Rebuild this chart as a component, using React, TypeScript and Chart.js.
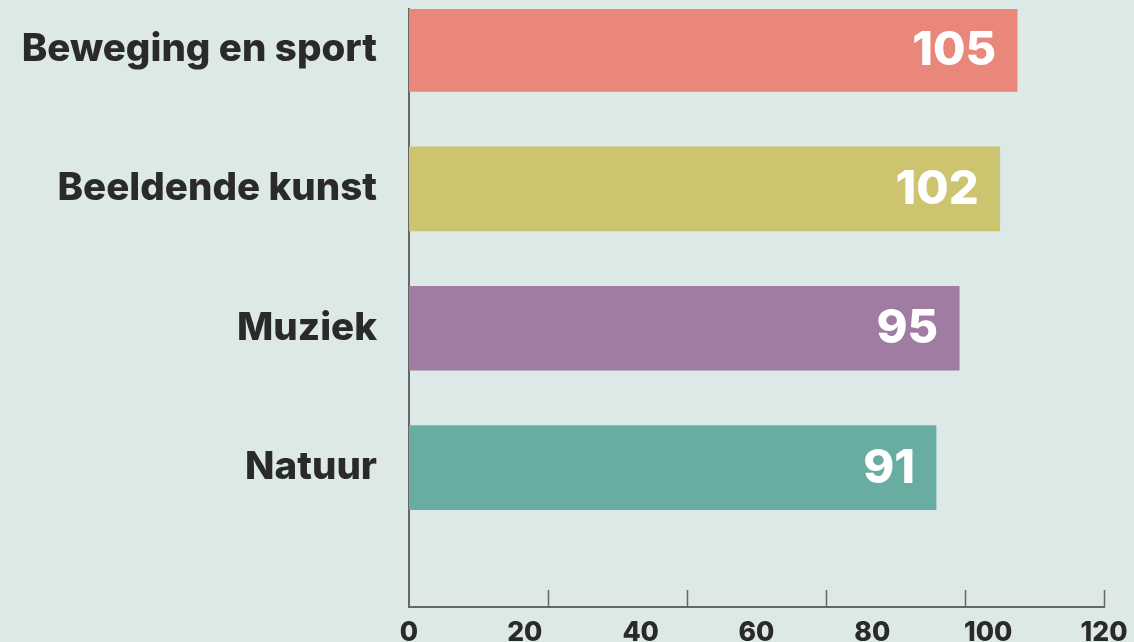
import React, { useEffect, useRef } from "react";
import { Chart, registerables } from "chart.js";

Chart.register(...registerables);

const categories = ["Beweging en sport", "Beeldende kunst", "Muziek", "Natuur"];
const values = [105, 102, 95, 91];
const barColors = ["#e9877b", "#cdc46f", "#a07ba2", "#69ada2"];
const xTickLabels = [0, 20, 40, 60, 80, 100, 120];
const xTickMarks = [24, 48, 72, 96, 120];

const BG = "#dce9e6";
const AXIS = "#666666";
const TEXT = "#2a2a2a";
const FONT = "Inter, 'Noto Sans', sans-serif";

const valueLabels = {
  id: "valueLabels",
  afterDatasetsDraw(chart: any) {
    const { ctx } = chart;
    const meta = chart.getDatasetMeta(0);
    ctx.save();
    ctx.fillStyle = "#ffffff";
    ctx.font = `800 47px ${FONT}`;
    ctx.textAlign = "right";
    ctx.textBaseline = "middle";
    meta.data.forEach((bar: any, i: number) => {
      ctx.fillText(String(values[i]), bar.x - 21, bar.y + 1);
    });
    ctx.restore();
  },
};

const innerTickMarks = {
  id: "innerTickMarks",
  afterDraw(chart: any) {
    const { ctx, chartArea } = chart;
    const xs = chart.scales.x;
    ctx.save();
    ctx.strokeStyle = AXIS;
    ctx.lineWidth = 1.5;
    ctx.beginPath();
    xTickMarks.forEach((v) => {
      const px = Math.round(xs.getPixelForValue(v)) + 0.5;
      ctx.moveTo(px, chartArea.bottom);
      ctx.lineTo(px, chartArea.bottom - 17);
    });
    ctx.stroke();
    ctx.restore();
  },
};

export default function App() {
  const ref = useRef<HTMLCanvasElement | null>(null);

  useEffect(() => {
    if (!ref.current) return;
    const n = categories.length;
    const chart = new Chart(ref.current, {
      type: "bar",
      data: {
        labels: categories,
        datasets: [
          {
            data: values.map((v, i) => ({ x: v, y: n - i })) as any,
            backgroundColor: barColors,
            borderWidth: 0,
            barThickness: 84,
          },
        ],
      },
      options: {
        indexAxis: "y",
        animation: false,
        responsive: false,
        devicePixelRatio: 1,
        layout: { padding: { top: 9, right: 30, left: 0, bottom: 0 } },
        plugins: {
          legend: { display: false },
          tooltip: { enabled: false },
        },
        scales: {
          y: {
            type: "linear",
            min: 0,
            max: 4.29,
            offset: false,
            afterBuildTicks: (scale: any) => {
              scale.ticks = categories.map((_, i) => ({ value: n - i }));
            },
            afterFit: (scale: any) => {
              scale.width = 409;
              scale.paddingTop = 0;
              scale.paddingBottom = 0;
            },
            grid: { display: false, drawTicks: false },
            border: { display: true, color: AXIS, width: 2 },
            ticks: {
              padding: 32,
              color: TEXT,
              font: { family: FONT, size: 38.5, weight: "800" as any },
              callback: (v: any) => categories[n - Number(v)] ?? "",
            },
          },
          x: {
            type: "linear",
            min: 0,
            max: 120,
            offset: false,
            afterBuildTicks: (scale: any) => {
              scale.ticks = xTickLabels.map((v) => ({ value: v }));
            },
            afterFit: (scale: any) => {
              scale.height = 60;
              scale.paddingLeft = 0;
              scale.paddingRight = 0;
            },
            grid: { display: false, drawTicks: false },
            border: { display: true, color: AXIS, width: 2 },
            ticks: {
              padding: 10,
              color: TEXT,
              maxRotation: 0,
              font: { family: FONT, size: 26.5, weight: "800" as any },
            },
          },
        },
      },
      plugins: [valueLabels, innerTickMarks],
    });
    return () => chart.destroy();
  }, []);

  return (
    <div
      style={{
        position: "fixed",
        left: 0,
        top: 0,
        width: 1134,
        height: 642,
        overflow: "hidden",
        background: BG,
      }}
    >
      <canvas ref={ref} width={1134} height={667} style={{ width: 1134, height: 667, display: "block" }} />
    </div>
  );
}
